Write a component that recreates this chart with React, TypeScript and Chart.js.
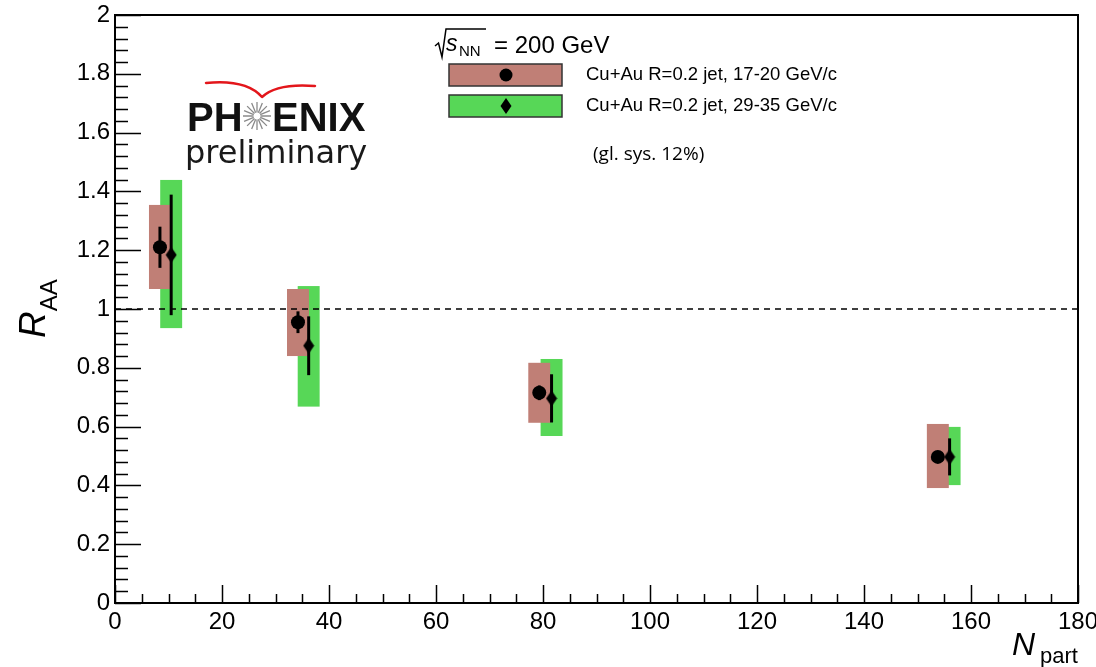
import React, { useEffect, useRef } from "react";
import { Chart, registerables } from "chart.js";

Chart.register(...registerables);

// ---- data ----
const NPART_CIRCLE = [8.4, 34.2, 79.3, 153.8];
const RAA_CIRCLE = [1.21, 0.955, 0.715, 0.497];
const STAT_CIRCLE = [0.07, 0.037, 0.025, 0.015];
const SYS_LO_CIRCLE = [1.068, 0.84, 0.613, 0.391];
const SYS_HI_CIRCLE = [1.354, 1.068, 0.817, 0.609];

const NPART_DIAMOND = [10.5, 36.2, 81.6, 156.0];
const RAA_DIAMOND = [1.184, 0.875, 0.696, 0.497];
const STAT_DIAMOND = [0.205, 0.1, 0.082, 0.063];
const SYS_LO_DIAMOND = [0.935, 0.668, 0.568, 0.401];
const SYS_HI_DIAMOND = [1.439, 1.078, 0.83, 0.599];

const X_MIN = 0;
const X_MAX = 180;
const X_STEP = 20;
const X_MINOR = 5;
const Y_MIN = 0;
const Y_MAX = 2;
const Y_STEP = 0.2;
const Y_MINOR = 0.04;
const REFERENCE_LINE = 1;

const LEGEND_TITLE = "= 200 GeV";
const LEGEND_LABELS = ["Cu+Au R=0.2 jet, 17-20 GeV/c", "Cu+Au R=0.2 jet, 29-35 GeV/c"];
const GLOBAL_SYS = "(gl. sys. 12%)";

// ---- styles ----
const BOX_HALF = 2.05;
const BROWN = "#c07f76";
const GREEN = "#57d757";
const FONT = "'Liberation Sans', Arial, sans-serif";

function makeDiamond(): HTMLCanvasElement {
  const c = document.createElement("canvas");
  c.width = 12;
  c.height = 17;
  const g = c.getContext("2d")!;
  g.fillStyle = "#000";
  g.beginPath();
  g.moveTo(6, 0.5);
  g.lineTo(11.5, 8.5);
  g.lineTo(6, 16.5);
  g.lineTo(0.5, 8.5);
  g.closePath();
  g.fill();
  return c;
}

const rootPlugin = {
  id: "rootStyle",
  beforeDatasetsDraw(chart: any) {
    const { ctx, chartArea, scales } = chart;
    const x = scales.x;
    const y = scales.y;
    ctx.save();
    ctx.beginPath();
    ctx.rect(chartArea.left, chartArea.top, chartArea.right - chartArea.left, chartArea.bottom - chartArea.top);
    ctx.clip();
    const box = (n: number, lo: number, hi: number, color: string) => {
      const l = x.getPixelForValue(n - BOX_HALF);
      const r = x.getPixelForValue(n + BOX_HALF);
      const t = y.getPixelForValue(hi);
      const b = y.getPixelForValue(lo);
      ctx.fillStyle = color;
      ctx.fillRect(l, t, r - l, b - t);
    };
    NPART_DIAMOND.forEach((n, i) => box(n, SYS_LO_DIAMOND[i], SYS_HI_DIAMOND[i], GREEN));
    NPART_CIRCLE.forEach((n, i) => box(n, SYS_LO_CIRCLE[i], SYS_HI_CIRCLE[i], BROWN));

    // dashed line at 1
    ctx.strokeStyle = "#000";
    ctx.lineWidth = 1.5;
    ctx.setLineDash([6, 5]);
    ctx.beginPath();
    const yl = y.getPixelForValue(REFERENCE_LINE);
    ctx.moveTo(chartArea.left, yl);
    ctx.lineTo(chartArea.right, yl);
    ctx.stroke();
    ctx.setLineDash([]);

    // stat error bars
    ctx.lineWidth = 3;
    const bar = (n: number, v: number, e: number) => {
      const px = x.getPixelForValue(n);
      ctx.beginPath();
      ctx.moveTo(px, y.getPixelForValue(v - e));
      ctx.lineTo(px, y.getPixelForValue(v + e));
      ctx.stroke();
    };
    NPART_CIRCLE.forEach((n, i) => bar(n, RAA_CIRCLE[i], STAT_CIRCLE[i]));
    NPART_DIAMOND.forEach((n, i) => bar(n, RAA_DIAMOND[i], STAT_DIAMOND[i]));
    ctx.restore();
  },
  afterDraw(chart: any) {
    const { ctx, chartArea, scales } = chart;
    const x = scales.x;
    const y = scales.y;
    const { left, right, top, bottom } = chartArea;
    ctx.save();
    ctx.strokeStyle = "#000";
    ctx.lineWidth = 1.5;
    // ticks
    ctx.beginPath();
    for (let v = Y_MIN; v <= Y_MAX + 1e-9; v += Y_MINOR) {
      const isMajor = Math.abs(v / Y_STEP - Math.round(v / Y_STEP)) < 1e-6;
      const py = Math.round(y.getPixelForValue(v)) + 0.5;
      ctx.moveTo(left, py);
      ctx.lineTo(left + (isMajor ? 26 : 13), py);
    }
    for (let v = X_MIN; v <= X_MAX + 1e-9; v += X_MINOR) {
      const isMajor = Math.abs(v / X_STEP - Math.round(v / X_STEP)) < 1e-6;
      const px = Math.round(x.getPixelForValue(v)) + 0.5;
      ctx.moveTo(px, bottom);
      ctx.lineTo(px, bottom - (isMajor ? 18 : 9));
    }
    ctx.stroke();
    // frame
    ctx.lineWidth = 2;
    ctx.strokeRect(left, top, right - left, bottom - top);

    ctx.fillStyle = "#000";
    ctx.textBaseline = "alphabetic";
    ctx.textAlign = "left";

    // Y title R_AA (rotated)
    ctx.save();
    ctx.translate(45, 338);
    ctx.rotate(-Math.PI / 2);
    ctx.font = `italic 37px ${FONT}`;
    ctx.fillText("R", 0, 0);
    const rw = ctx.measureText("R").width;
    ctx.font = `24px ${FONT}`;
    ctx.fillText("AA", rw, 12);
    ctx.restore();

    // X title N_part
    ctx.font = `italic 32px ${FONT}`;
    ctx.fillText("N", 1012, 655);
    ctx.font = `22px ${FONT}`;
    ctx.fillText("part", 1040, 663);

    // legend header sqrt(s_NN)
    ctx.lineWidth = 1.5;
    ctx.beginPath();
    ctx.moveTo(435, 46);
    ctx.lineTo(438.5, 43);
    ctx.lineTo(442, 57);
    ctx.lineTo(446, 29);
    ctx.lineTo(486, 29);
    ctx.stroke();
    ctx.font = `italic 23px ${FONT}`;
    ctx.fillText("s", 446, 51);
    ctx.font = `15px ${FONT}`;
    ctx.fillText("NN", 459, 56);
    ctx.font = `24px ${FONT}`;
    ctx.fillText(LEGEND_TITLE, 494, 53);

    // legend entries
    const entry = (yTop: number, color: string, label: string, diamond: boolean) => {
      ctx.fillStyle = color;
      ctx.fillRect(449, yTop, 113, 22);
      ctx.strokeStyle = "#333";
      ctx.lineWidth = 1.5;
      ctx.strokeRect(449, yTop, 113, 22);
      ctx.fillStyle = "#000";
      const cy = yTop + 11;
      ctx.beginPath();
      if (diamond) {
        ctx.moveTo(506, cy - 8);
        ctx.lineTo(511.5, cy);
        ctx.lineTo(506, cy + 8);
        ctx.lineTo(500.5, cy);
        ctx.closePath();
      } else {
        ctx.arc(506, cy, 6.5, 0, Math.PI * 2);
      }
      ctx.fill();
      ctx.font = `18.5px ${FONT}`;
      ctx.textBaseline = "middle";
      ctx.fillText(label, 586, cy);
      ctx.textBaseline = "alphabetic";
    };
    entry(64, BROWN, LEGEND_LABELS[0], false);
    entry(95, GREEN, LEGEND_LABELS[1], true);

    ctx.font = `19px 'Open Sans', sans-serif`;
    ctx.fillStyle = "#000";
    ctx.fillText(GLOBAL_SYS, 593, 160);

    // PHENIX logo
    ctx.strokeStyle = "#e3161b";
    ctx.lineCap = "round";
    ctx.lineWidth = 2.5;
    ctx.beginPath();
    ctx.moveTo(206, 83);
    ctx.quadraticCurveTo(246, 79, 262, 97);
    ctx.moveTo(262, 97);
    ctx.quadraticCurveTo(277, 83, 315, 86);
    ctx.stroke();

    ctx.fillStyle = "#111";
    ctx.font = `bold 40px ${FONT}`;
    ctx.fillText("PH", 187, 131);
    ctx.fillText("ENIX", 272, 131);
    // star
    ctx.strokeStyle = "#8a8a8a";
    ctx.lineWidth = 1.3;
    ctx.lineCap = "butt";
    ctx.beginPath();
    for (let k = 0; k < 16; k++) {
      const a = (k * Math.PI) / 8;
      ctx.moveTo(257 + Math.cos(a) * 3.5, 116 + Math.sin(a) * 3.5);
      ctx.lineTo(257 + Math.cos(a) * 14, 116 + Math.sin(a) * 14);
    }
    ctx.stroke();
    ctx.font = `32px 'DejaVu Sans', sans-serif`;
    ctx.fillStyle = "#1a1a1a";
    ctx.fillText("preliminary", 185, 163);
    ctx.restore();
  },
};

export default function App() {
  const ref = useRef<HTMLCanvasElement | null>(null);
  useEffect(() => {
    if (!ref.current) return;
    const diamond = makeDiamond();
    const chart = new Chart(ref.current, {
      type: "scatter",
      data: {
        datasets: [
          {
            label: LEGEND_LABELS[0],
            data: NPART_CIRCLE.map((n, i) => ({ x: n, y: RAA_CIRCLE[i] })),
            pointStyle: "circle",
            pointRadius: 7,
            backgroundColor: "#000",
            borderWidth: 0,
          },
          {
            label: LEGEND_LABELS[1],
            data: NPART_DIAMOND.map((n, i) => ({ x: n, y: RAA_DIAMOND[i] })),
            pointStyle: diamond as any,
            pointRadius: 8,
            backgroundColor: "#000",
            borderWidth: 0,
          },
        ],
      },
      options: {
        responsive: false,
        animation: false,
        layout: { padding: { top: 15, right: 18, left: 0, bottom: 0 } },
        plugins: { legend: { display: false }, tooltip: { enabled: false } },
        scales: {
          x: {
            type: "linear",
            min: X_MIN,
            max: X_MAX,
            afterFit: (s: any) => {
              s.height = 64;
              s.paddingLeft = 0;
              s.paddingRight = 0;
            },
            grid: { display: false, drawTicks: false },
            border: { display: false },
            ticks: {
              stepSize: X_STEP,
              autoSkip: false,
              maxRotation: 0,
              padding: 5,
              color: "#000",
              font: { family: "Liberation Sans", size: 24 },
            },
          },
          y: {
            type: "linear",
            min: Y_MIN,
            max: Y_MAX,
            afterFit: (s: any) => {
              s.width = 115;
              s.paddingTop = 0;
              s.paddingBottom = 0;
            },
            grid: { display: false, drawTicks: false },
            border: { display: false },
            ticks: {
              stepSize: Y_STEP,
              autoSkip: false,
              padding: 5,
              color: "#000",
              font: { family: "Liberation Sans", size: 24 },
              callback: (v: any) => String(Math.round(Number(v) * 10) / 10),
            },
          },
        },
      },
      plugins: [rootPlugin],
    });
    return () => chart.destroy();
  }, []);
  return (
    <div style={{ position: "absolute", left: 0, top: 0, width: 1096, height: 667, background: "#fff" }}>
      <canvas ref={ref} width={1096} height={667} />
    </div>
  );
}
